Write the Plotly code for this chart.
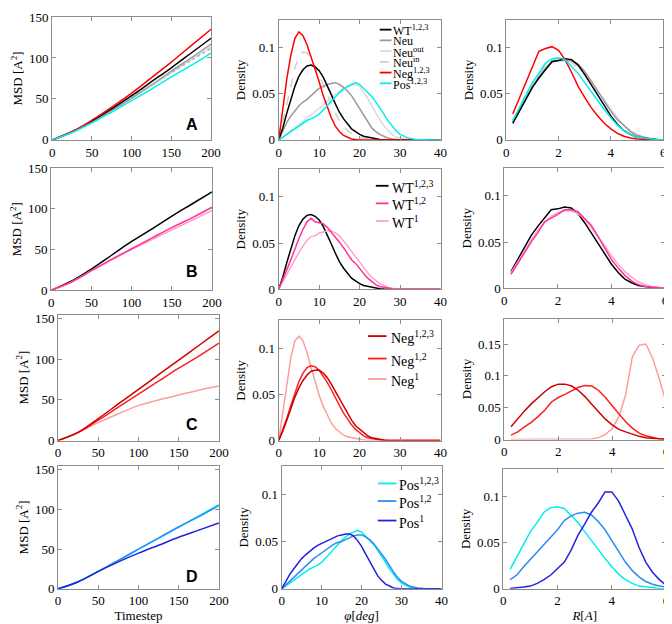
import plotly.graph_objects as go

W, H = 672, 624

# ---------------- data ----------------
T_MSD = [0, 25, 50, 75, 100, 125, 150, 175, 200]

MSD_A_WT123 = [0, 10, 23, 38, 54, 71, 88, 106, 124]
MSD_A_NEU = [0, 10, 22, 36, 51, 67, 84, 100, 117]
MSD_A_NEUOUT = [0, 9, 22, 36, 51, 66, 82, 98, 114]
MSD_A_NEUIN = [0, 10, 23, 38, 53, 67, 82, 97, 112]
MSD_A_NEG123 = [0, 10, 24, 40, 57, 76, 95, 115, 135]
MSD_A_POS123 = [0, 9, 21, 34, 48, 62, 77, 91, 106]

MSD_B_WT123 = [0, 11, 26, 43, 60, 75, 91, 106, 121]
MSD_B_WT12 = [0, 10, 24, 38, 51, 64, 77, 89, 102]
MSD_B_WT1 = [0, 10, 24, 37, 50, 62, 74, 86, 98]

MSD_C_NEG123 = [0, 10, 27, 45, 63, 81, 99, 117, 135]
MSD_C_NEG12 = [0, 10, 25, 41, 57, 73, 89, 104, 120]
MSD_C_NEG1 = [0, 10, 22, 33, 43, 50, 56, 62, 67]

MSD_D_POS123 = [0, 9, 22, 36, 50, 64, 78, 92, 106]
MSD_D_POS12 = [0, 9, 22, 36, 50, 64, 78, 91, 105]
MSD_D_POS1 = [0, 9, 22, 34, 45, 55, 65, 74, 83]

PHI = [0, 1, 2, 3, 4, 5, 6, 7, 8, 9, 10, 11, 12, 13, 14, 15, 16, 17, 18, 19, 20,
       21, 22, 23, 24, 25, 26, 27, 28, 29, 30, 32, 34, 36, 38, 40]

PHI_WT123 = [0, 0.013, 0.029, 0.045, 0.058, 0.069, 0.076, 0.080, 0.081, 0.079, 0.075,
             0.068, 0.059, 0.049, 0.039, 0.030, 0.023, 0.017, 0.012, 0.009, 0.006,
             0.004, 0.003, 0.002, 0.001, 0.0005, 0.0002, 0, 0, 0, 0, 0, 0, 0, 0, 0]
PHI_NEU = [0, 0.010, 0.019, 0.026, 0.032, 0.037, 0.041, 0.044, 0.048, 0.052, 0.056,
           0.058, 0.060, 0.061, 0.062, 0.060, 0.057, 0.053, 0.048, 0.041, 0.034,
           0.026, 0.019, 0.013, 0.009, 0.006, 0.004, 0.002, 0.001, 0.0005, 0, 0, 0, 0, 0, 0]
PHI_NEUOUT = [0, 0.003, 0.006, 0.010, 0.013, 0.017, 0.020, 0.024, 0.027, 0.031, 0.034,
              0.038, 0.042, 0.046, 0.050, 0.053, 0.056, 0.057, 0.059, 0.060, 0.058,
              0.052, 0.045, 0.037, 0.029, 0.022, 0.015, 0.010, 0.006, 0.003, 0.002,
              0.0005, 0, 0, 0, 0]
PHI_NEUIN = [0, 0.020, 0.040, 0.060, 0.078, 0.090, 0.095, 0.094, 0.088, 0.080, 0.070,
             0.059, 0.048, 0.038, 0.029, 0.021, 0.015, 0.010, 0.007, 0.004, 0.003,
             0.002, 0.001, 0.0005, 0, 0, 0, 0, 0, 0, 0, 0, 0, 0, 0, 0]
PHI_A_NEG123 = [0, 0.035, 0.066, 0.092, 0.110, 0.117, 0.113, 0.103, 0.090, 0.077, 0.063,
                0.048, 0.035, 0.024, 0.015, 0.009, 0.005, 0.003, 0.001, 0.0005, 0,
                0, 0, 0, 0, 0, 0, 0, 0, 0, 0, 0, 0, 0, 0, 0]
PHI_POS123 = [0, 0.003, 0.006, 0.009, 0.012, 0.015, 0.018, 0.021, 0.023, 0.025, 0.028,
              0.032, 0.037, 0.042, 0.047, 0.051, 0.055, 0.058, 0.060, 0.062, 0.060,
              0.056, 0.052, 0.047, 0.041, 0.035, 0.028, 0.021, 0.015, 0.010, 0.006,
              0.002, 0.0005, 0, 0, 0]
PHI_WT12 = [0, 0.010, 0.021, 0.032, 0.044, 0.055, 0.065, 0.073, 0.077, 0.073, 0.072,
            0.071, 0.067, 0.062, 0.057, 0.051, 0.045, 0.038, 0.032, 0.028, 0.022,
            0.017, 0.012, 0.008, 0.005, 0.003, 0.002, 0.001, 0.0005, 0, 0, 0, 0, 0, 0, 0]
PHI_WT1 = [0, 0.008, 0.016, 0.025, 0.033, 0.040, 0.047, 0.053, 0.057, 0.058, 0.061,
           0.062, 0.063, 0.063, 0.061, 0.058, 0.053, 0.047, 0.041, 0.035, 0.029,
           0.023, 0.018, 0.013, 0.009, 0.006, 0.004, 0.002, 0.001, 0.0005, 0, 0, 0, 0, 0, 0]
PHI_C_NEG123 = [0, 0.010, 0.022, 0.035, 0.047, 0.057, 0.065, 0.071, 0.075, 0.076, 0.076,
                0.073, 0.068, 0.061, 0.053, 0.045, 0.037, 0.029, 0.022, 0.016, 0.012,
                0.008, 0.005, 0.003, 0.002, 0.001, 0.0005, 0, 0, 0, 0, 0, 0, 0, 0, 0]
PHI_NEG12 = [0, 0.011, 0.024, 0.038, 0.052, 0.064, 0.073, 0.079, 0.081, 0.080, 0.076,
             0.070, 0.063, 0.055, 0.046, 0.038, 0.030, 0.023, 0.017, 0.012, 0.008,
             0.005, 0.003, 0.002, 0.001, 0.0005, 0, 0, 0, 0, 0, 0, 0, 0, 0, 0]
PHI_NEG1 = [0, 0.030, 0.062, 0.090, 0.108, 0.113, 0.108, 0.095, 0.079, 0.063, 0.049,
            0.037, 0.027, 0.019, 0.013, 0.009, 0.006, 0.004, 0.003, 0.002, 0.001,
            0.0005, 0, 0, 0, 0, 0, 0, 0, 0, 0, 0, 0, 0, 0, 0]
PHI_POS12 = [0, 0.004, 0.008, 0.012, 0.017, 0.021, 0.025, 0.029, 0.032, 0.035, 0.038,
             0.041, 0.044, 0.047, 0.049, 0.050, 0.052, 0.054, 0.056, 0.057, 0.057,
             0.055, 0.052, 0.048, 0.043, 0.037, 0.031, 0.024, 0.018, 0.012, 0.008,
             0.003, 0.001, 0, 0, 0]
PHI_POS1 = [0, 0.008, 0.015, 0.021, 0.027, 0.032, 0.036, 0.040, 0.043, 0.046, 0.048,
            0.050, 0.052, 0.054, 0.056, 0.057, 0.058, 0.058, 0.056, 0.051, 0.045,
            0.037, 0.029, 0.021, 0.014, 0.009, 0.005, 0.003, 0.001, 0.0005, 0,
            0, 0, 0, 0, 0]

R = [0.25, 0.5, 0.75, 1.0, 1.25, 1.5, 1.75, 2.0, 2.25, 2.5, 2.75, 3.0,
     3.25, 3.5, 3.75, 4.0, 4.25, 4.5, 4.75, 5.0, 5.25, 5.5, 5.75, 6.0]

R_WT123 = [0.018, 0.031, 0.045, 0.057, 0.067, 0.076, 0.085, 0.086, 0.088, 0.087, 0.081, 0.071,
           0.060, 0.049, 0.037, 0.026, 0.017, 0.010, 0.006, 0.003, 0.002, 0.001, 0.0005, 0]
R_NEU = [0.019, 0.032, 0.045, 0.057, 0.068, 0.077, 0.084, 0.086, 0.086, 0.086, 0.082, 0.074,
         0.064, 0.053, 0.042, 0.031, 0.022, 0.015, 0.009, 0.005, 0.003, 0.001, 0.0005, 0]
R_NEUOUT = [0.020, 0.033, 0.047, 0.059, 0.070, 0.079, 0.085, 0.087, 0.087, 0.085, 0.080, 0.072,
            0.063, 0.053, 0.043, 0.033, 0.024, 0.016, 0.010, 0.006, 0.003, 0.002, 0.001, 0]
R_NEUIN = [0.021, 0.035, 0.049, 0.061, 0.072, 0.080, 0.086, 0.088, 0.087, 0.084, 0.078, 0.070,
           0.060, 0.050, 0.040, 0.031, 0.022, 0.015, 0.009, 0.005, 0.003, 0.001, 0.0005, 0]
R_A_NEG123 = [0.028, 0.045, 0.062, 0.080, 0.096, 0.099, 0.101, 0.097, 0.087, 0.073, 0.058, 0.046,
              0.035, 0.026, 0.018, 0.012, 0.007, 0.004, 0.002, 0.001, 0.0005, 0.0003, 0.0001, 0]
R_POS123 = [0.021, 0.035, 0.049, 0.062, 0.072, 0.083, 0.088, 0.089, 0.087, 0.080, 0.072, 0.062,
            0.052, 0.042, 0.033, 0.024, 0.016, 0.010, 0.006, 0.003, 0.002, 0.001, 0.0005, 0]
R_WT12 = [0.015, 0.027, 0.038, 0.050, 0.060, 0.072, 0.076, 0.080, 0.085, 0.085, 0.083, 0.076,
          0.068, 0.056, 0.043, 0.031, 0.022, 0.014, 0.008, 0.004, 0.002, 0.001, 0.0005, 0]
R_WT1 = [0.017, 0.028, 0.040, 0.052, 0.063, 0.071, 0.078, 0.082, 0.084, 0.084, 0.081, 0.075,
         0.066, 0.056, 0.046, 0.035, 0.026, 0.018, 0.012, 0.007, 0.004, 0.002, 0.001, 0]
R_C_NEG123 = [0.020, 0.033, 0.045, 0.056, 0.066, 0.075, 0.083, 0.087, 0.087, 0.084, 0.077, 0.067,
              0.055, 0.044, 0.032, 0.023, 0.016, 0.012, 0.008, 0.005, 0.003, 0.002, 0.001, 0]
R_NEG12 = [0.007, 0.012, 0.020, 0.027, 0.036, 0.046, 0.059, 0.066, 0.071, 0.076, 0.082, 0.085,
           0.084, 0.077, 0.066, 0.053, 0.040, 0.028, 0.018, 0.010, 0.006, 0.003, 0.001, 0.0005]
R_NEG1 = [0, 0, 0, 0, 0, 0, 0, 0, 0, 0, 0.0003, 0.0006,
          0.001, 0.003, 0.008, 0.017, 0.036, 0.070, 0.130, 0.148, 0.150, 0.128, 0.095, 0.058]
R_POS12 = [0.010, 0.015, 0.024, 0.032, 0.040, 0.048, 0.056, 0.064, 0.074, 0.079, 0.082, 0.083,
           0.080, 0.073, 0.064, 0.052, 0.040, 0.029, 0.020, 0.013, 0.008, 0.005, 0.003, 0.002]
R_POS1 = [0.0005, 0.001, 0.002, 0.003, 0.006, 0.010, 0.015, 0.022, 0.029, 0.042, 0.058, 0.070,
          0.083, 0.093, 0.105, 0.105, 0.095, 0.080, 0.065, 0.045, 0.029, 0.018, 0.010, 0.004]

# ---------------- styles ----------------
C_BLACK = "#000000"
C_NEU = "#9a9a9a"
C_NEUOUT = "#dadada"
C_NEUIN = "#cfcfcf"
C_RED = "#ff0000"
C_CYAN = "#00eeee"
C_WT12 = "#ff3399"
C_WT1 = "#ffa0d0"
C_NEG123 = "#cc0000"
C_NEG12 = "#ff1f1f"
C_NEG1 = "#ff9c9c"
C_POS12 = "#2b8cf5"
C_POS1 = "#2222dd"

SERIF = "Liberation Serif, Times New Roman, serif"
AXIS_GRAY = "#8c8c8c"

# panel boxes in pixels: (left, top, right, bottom)
BOXES = [
    (42, 2, 204, 128), (273, 5, 438, 128), (505, 5, 665, 128),
    (41, 157, 205, 282), (273, 158, 438, 281), (503, 157, 667, 280),
    (48, 307, 212, 436), (273, 313, 438, 436), (503, 311, 668, 435),
    (48, 462, 212, 588), (276, 462, 439, 588), (502, 465, 668, 588),
]


def px(x):
    return x / W


def py(y):
    return 1 - y / H


fig = go.Figure()


def names(i):
    return ("x" if i == 1 else f"x{i}", "y" if i == 1 else f"y{i}")


def add(i, x, y, color, dash="solid", width=1.5, shape="linear", name=None):
    xa, ya = names(i)
    fig.add_trace(go.Scatter(x=x, y=y, mode="lines", xaxis=xa, yaxis=ya,
                             line=dict(color=color, width=width, dash=dash, shape=shape),
                             showlegend=False, name=name, hoverinfo="skip"))


# Row A
add(1, T_MSD, MSD_A_NEUOUT, C_NEUOUT, shape="spline", name="Neu out")
add(1, T_MSD, MSD_A_NEU, C_NEU, shape="spline", name="Neu")
add(1, T_MSD, MSD_A_NEUIN, "#b0b0b0", dash="dot", shape="spline", name="Neu in")
add(1, T_MSD, MSD_A_WT123, C_BLACK, shape="spline", name="WT123")
add(1, T_MSD, MSD_A_NEG123, C_RED, shape="spline", name="Neg123")
add(1, T_MSD, MSD_A_POS123, C_CYAN, shape="spline", name="Pos123")

add(2, PHI, PHI_NEUOUT, C_NEUOUT, name="Neu out")
add(2, PHI, PHI_NEUIN, C_NEUIN, dash="dash", name="Neu in")
add(2, PHI, PHI_NEU, C_NEU, name="Neu")
add(2, PHI, PHI_WT123, C_BLACK, name="WT123")
add(2, PHI, PHI_A_NEG123, C_RED, name="Neg123")
add(2, PHI, PHI_POS123, C_CYAN, name="Pos123")

add(3, R, R_NEUOUT, C_NEUOUT, name="Neu out")
add(3, R, R_NEUIN, C_NEUIN, dash="dash", name="Neu in")
add(3, R, R_NEU, C_NEU, name="Neu")
add(3, R, R_WT123, C_BLACK, name="WT123")
add(3, R, R_A_NEG123, C_RED, name="Neg123")
add(3, R, R_POS123, C_CYAN, name="Pos123")

# Row B
add(4, T_MSD, MSD_B_WT123, C_BLACK, shape="spline")
add(4, T_MSD, MSD_B_WT1, C_WT1, shape="spline")
add(4, T_MSD, MSD_B_WT12, C_WT12, shape="spline")
add(5, PHI, PHI_WT123, C_BLACK)
add(5, PHI, PHI_WT1, C_WT1)
add(5, PHI, PHI_WT12, C_WT12)
add(6, R, R_WT123, C_BLACK)
add(6, R, R_WT1, C_WT1)
add(6, R, R_WT12, C_WT12)

# Row C
add(7, T_MSD, MSD_C_NEG1, C_NEG1, shape="spline")
add(7, T_MSD, MSD_C_NEG12, C_NEG12, shape="spline")
add(7, T_MSD, MSD_C_NEG123, C_NEG123, shape="spline")
add(8, PHI, PHI_NEG1, C_NEG1)
add(8, PHI, PHI_NEG12, C_NEG12)
add(8, PHI, PHI_C_NEG123, C_NEG123)
add(9, R, R_NEG1, C_NEG1)
add(9, R, R_NEG12, C_NEG12)
add(9, R, R_C_NEG123, C_NEG123)

# Row D
add(10, T_MSD, MSD_D_POS123, C_CYAN, shape="spline")
add(10, T_MSD, MSD_D_POS12, C_POS12, shape="spline")
add(10, T_MSD, MSD_D_POS1, C_POS1, shape="spline")
add(11, PHI, PHI_POS123, C_CYAN)
add(11, PHI, PHI_POS12, C_POS12)
add(11, PHI, PHI_POS1, C_POS1)
add(12, R, R_POS123, C_CYAN)
add(12, R, R_POS12, C_POS12)
add(12, R, R_POS1, C_POS1)

# ---------------- axes ----------------
tickfont = dict(family=SERIF, size=13, color="black")
titlefont = dict(family=SERIF, size=13, color="black")
common = dict(showline=True, mirror="ticks", linecolor=AXIS_GRAY, linewidth=1,
              ticks="inside", ticklen=4, tickcolor=AXIS_GRAY, showgrid=False,
              zeroline=False, tickfont=tickfont, fixedrange=True)

layout_axes = {}
for i, (l, t, r, b) in enumerate(BOXES, start=1):
    row, col = (i - 1) // 3, (i - 1) % 3
    xa, ya = names(i)
    xkey = "xaxis" if i == 1 else f"xaxis{i}"
    ykey = "yaxis" if i == 1 else f"yaxis{i}"
    if col == 0:
        xr, xt = [0, 200], [0, 50, 100, 150, 200]
        yr = [0, 150] if row < 2 else [0, 155]
        yt = [0, 50, 100, 150]
        ytitle = "MSD [A<sup>2</sup>]"
        xtitle = "Timestep"
    elif col == 1:
        xr, xt = [0, 40], [0, 10, 20, 30, 40]
        yr, yt = [0, 0.13], [0, 0.05, 0.1]
        ytitle = "Density"
        xtitle = "<i>φ</i>[<i>deg</i>]"
    else:
        xr, xt = [0, 6], [0, 2, 4, 6]
        if row == 2:
            yr, yt = [0, 0.19], [0, 0.05, 0.1, 0.15]
        else:
            yr, yt = [0, 0.13], [0, 0.05, 0.1]
        ytitle = "Density"
        xtitle = "<i>R</i>[<i>A</i>]"
    xd = dict(common, domain=[px(l), px(r)], range=xr, tickvals=xt, anchor=ya)
    if row == 3:
        xd["title"] = dict(text=xtitle, font=titlefont, standoff=3)
    yd = dict(common, domain=[py(b), py(t)], range=yr, tickvals=yt, anchor=xa,
              title=dict(text=ytitle, font=titlefont, standoff=3))
    layout_axes[xkey] = xd
    layout_axes[ykey] = yd

fig.update_layout(**layout_axes)

# ---------------- panel letters ----------------
LETTERS = ["A", "B", "C", "D"]
LETTER_Y = [112, 263, 420, 575]
annotations = []
for lab, yy in zip(LETTERS, LETTER_Y):
    annotations.append(dict(text=f"<b>{lab}</b>", x=px(193), y=py(yy), xref="paper", yref="paper",
                            xanchor="right", yanchor="middle", showarrow=False,
                            font=dict(family="Liberation Sans, Arial, sans-serif", size=16,
                                      color="black")))

# ---------------- custom legends ----------------
shapes = []


def legend(labels, colors, dashes, x0, x1, xt, ys, size):
    for lab, c, d, yy in zip(labels, colors, dashes, ys):
        shapes.append(dict(type="line", xref="paper", yref="paper", x0=px(x0), x1=px(x1),
                           y0=py(yy), y1=py(yy), line=dict(color=c, width=1.8, dash=d)))
        annotations.append(dict(text=lab, x=px(xt), y=py(yy + 1), xref="paper", yref="paper",
                                xanchor="left", yanchor="middle", showarrow=False,
                                borderpad=0,
                                font=dict(family=SERIF, size=size, color="black")))


legend(["WT<sup>1,2,3</sup>", "Neu", "Neu<sup>out</sup>", "Neu<sup>in</sup>",
        "Neg<sup>1,2,3</sup>", "Pos<sup>1,2,3</sup>"],
       [C_BLACK, C_NEU, C_NEUOUT, C_NEUIN, C_RED, C_CYAN],
       ["solid", "solid", "solid", "dash", "solid", "solid"],
       376, 388, 389, [15, 26, 37, 48, 59, 70], 12)
legend(["WT<sup>1,2,3</sup>", "WT<sup>1,2</sup>", "WT<sup>1</sup>"],
       [C_BLACK, C_WT12, C_WT1], ["solid"] * 3,
       372, 385, 387, [175, 193, 211], 14)
legend(["Neg<sup>1,2,3</sup>", "Neg<sup>1,2</sup>", "Neg<sup>1</sup>"],
       [C_NEG123, C_NEG12, C_NEG1], ["solid"] * 3,
       364, 383, 386, [329, 352, 373], 14)
legend(["Pos<sup>1,2,3</sup>", "Pos<sup>1,2</sup>", "Pos<sup>1</sup>"],
       [C_CYAN, C_POS12, C_POS1], ["solid"] * 3,
       374, 393, 395, [480, 498, 518], 14)

fig.update_layout(width=W, height=H, margin=dict(l=0, r=0, t=0, b=0),
                  paper_bgcolor="white", plot_bgcolor="white",
                  showlegend=False, annotations=annotations, shapes=shapes,
                  font=dict(family=SERIF, size=13, color="black"))

fig.write_html("out.html")
